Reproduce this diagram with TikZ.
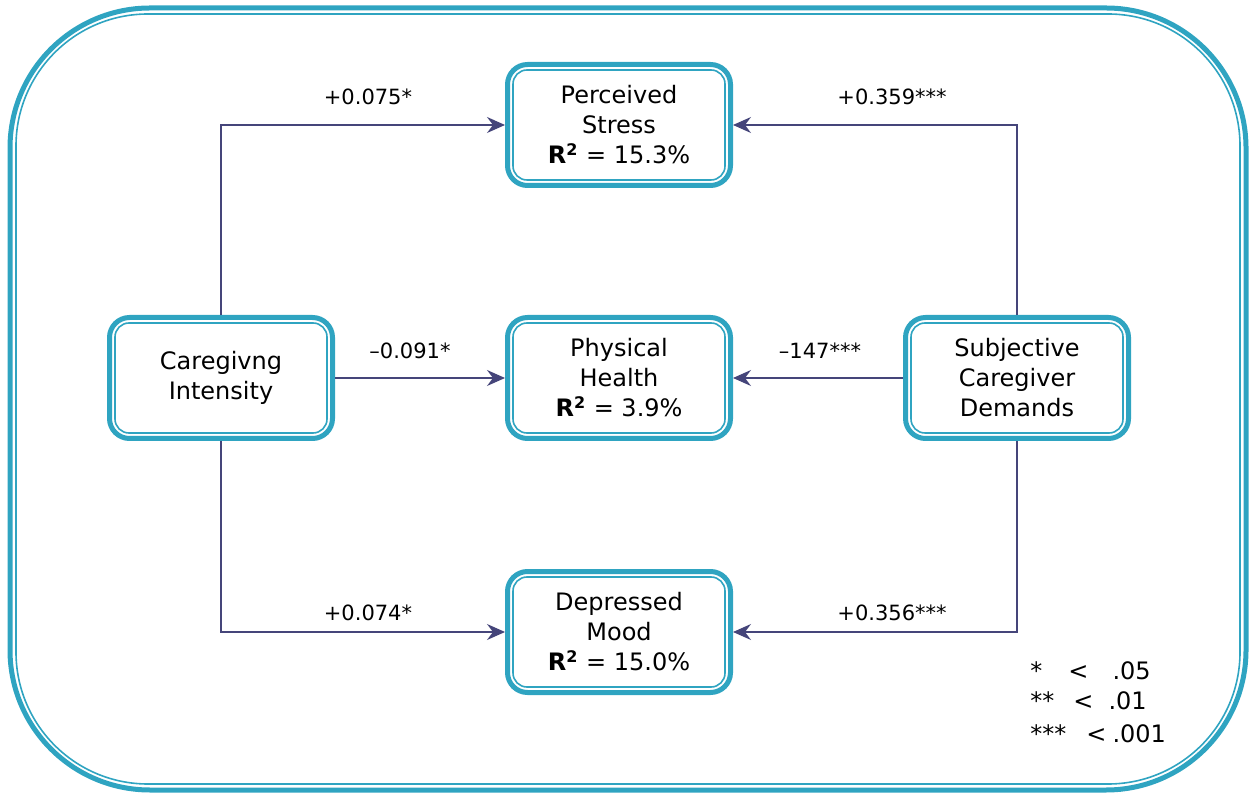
\documentclass[tikz,border=0pt]{standalone}
\usepackage{fontspec}
\setmainfont{DejaVu Sans}
\usetikzlibrary{arrows.meta}
\definecolor{frameblue}{HTML}{2FA4C1}
\definecolor{pathink}{HTML}{45457A}
\begin{document}
\begin{tikzpicture}[x=0.5pt,y=-0.5pt,
  varbox/.style={draw=frameblue, line width=2.5pt, rounded corners=10pt, fill=white,
    minimum width=111.5pt, minimum height=60.5pt, align=center, inner sep=0pt,
    font=\fontsize{12}{15}\selectfont},
  innerline/.style={draw=frameblue, line width=0.8pt, rounded corners=7pt},
  conn/.style={draw=pathink, line width=0.65pt, -{Stealth[length=9pt,width=8pt,inset=3pt]}},
  coef/.style={anchor=base, inner sep=0pt, font=\fontsize{10.5}{12}\selectfont},
  legend/.style={anchor=base west, inner sep=0pt, font=\fontsize{12}{14}\selectfont}]
\useasboundingbox (0,0) rectangle (1251,795);

% outer frame: thick line with a thin line just inside
\draw[frameblue, line width=2.5pt, rounded corners=70pt] (10,8) rectangle (1246,790);
\draw[frameblue, line width=0.8pt, rounded corners=66pt] (16,14) rectangle (1240,784);

% variables
\node[varbox] (ps) at (619,125) {Perceived\\Stress\\\textbf{R\textsuperscript{2}} = 15.3\%};
\node[varbox] (ph) at (619,378) {Physical\\Health\\\textbf{R\textsuperscript{2}} = 3.9\%};
\node[varbox] (dm) at (619,632) {Depressed\\Mood\\\textbf{R\textsuperscript{2}} = 15.0\%};
\node[varbox] (ci) at (221,378) {Caregivng\\Intensity};
\node[varbox] (sd) at (1017,378) {Subjective\\Caregiver\\Demands};

\foreach \n in {ps,ph,dm,ci,sd}
  \draw[innerline] ([xshift=4pt,yshift=-4pt]\n.north west) rectangle ([xshift=-4pt,yshift=4pt]\n.south east);

% paths
\draw[conn] (ci.north) |- (ps.west);
\draw[conn] (ci.east) -- (ph.west);
\draw[conn] (ci.south) |- (dm.west);
\draw[conn] (sd.north) |- (ps.east);
\draw[conn] (sd.west) -- (ph.east);
\draw[conn] (sd.south) |- (dm.east);

% path coefficients
\node[coef] (c1) at (368,105) {+0.075*};
\node[coef] (c2) at (410,359) {–0.091*};
\node[coef] (c3) at (368,620) {+0.074*};
\node[coef] (c4) at (892,105) {+0.359***};
\node[coef] (c5) at (820,359) {–147***};
\node[coef] (c6) at (892,620) {+0.356***};

% significance legend
\node[legend] (l1) at (1030,679) {*\hspace{13pt}<\hspace{12pt}.05};
\node[legend] (l2) at (1030,709) {**\hspace{9.5pt}<\hspace{7.5pt}.01};
\node[legend] (l3) at (1030,742) {***\hspace{10pt}<\hspace{3pt}.001};
\end{tikzpicture}
\end{document}
